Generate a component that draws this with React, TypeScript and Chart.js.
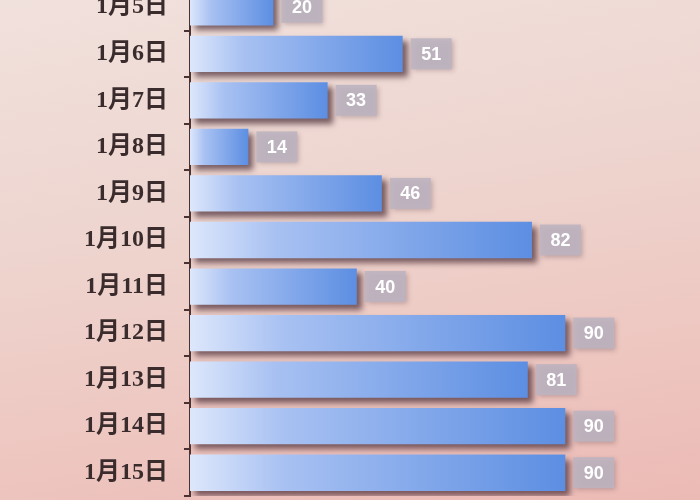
import { useEffect, useRef } from 'react'
import { Chart, ChartConfiguration, Plugin, registerables } from 'chart.js'

Chart.register(...registerables)

const dates = ['1月5日', '1月6日', '1月7日', '1月8日', '1月9日', '1月10日', '1月11日', '1月12日', '1月13日', '1月14日', '1月15日']
const counts = [20, 51, 33, 14, 46, 82, 40, 90, 81, 90, 90]

// bar shadow + value boxes
const decor: Plugin<'bar'> = {
  id: 'decor',
  beforeDatasetsDraw(chart) {
    const ctx = chart.ctx
    ctx.save()
    ctx.shadowColor = 'rgba(70,40,50,0.7)'
    ctx.shadowBlur = 6
    ctx.shadowOffsetX = 5
    ctx.shadowOffsetY = 5
  },
  afterDatasetsDraw(chart) {
    const ctx = chart.ctx
    ctx.restore()
    const meta = chart.getDatasetMeta(0)
    ctx.save()
    meta.data.forEach((bar, i) => {
      const { x, y } = bar.getProps(['x', 'y'], true) as { x: number; y: number }
      const bx = x + 8
      const w = 41
      const h = 31
      ctx.shadowColor = 'rgba(90,60,70,0.35)'
      ctx.shadowBlur = 5
      ctx.shadowOffsetX = 2
      ctx.shadowOffsetY = 2
      ctx.fillStyle = 'rgba(188,180,192,0.9)'
      ctx.fillRect(bx, y - h / 2, w, h)
      ctx.shadowColor = 'transparent'
      ctx.fillStyle = '#ffffff'
      ctx.font = 'bold 18px "Liberation Sans", Arial, sans-serif'
      ctx.textAlign = 'center'
      ctx.textBaseline = 'middle'
      ctx.fillText(String(counts[i]), bx + w / 2, y + 1)
    })
    ctx.restore()
  },
}

function BarChart() {
  const chartRef = useRef<HTMLCanvasElement>(null)
  const chartInstance = useRef<Chart | null>(null)

  useEffect(() => {
    if (!chartRef.current) return
    const ctx = chartRef.current.getContext('2d')
    if (!ctx) return

    if (chartInstance.current) {
      chartInstance.current.destroy()
    }

    const config: ChartConfiguration<'bar'> = {
      type: 'bar',
      data: {
        labels: dates,
        datasets: [
          {
            data: counts,
            barPercentage: 0.78,
            categoryPercentage: 1,
            borderWidth: 0,
            backgroundColor: (c) => {
              const chart = c.chart
              const xs = chart.scales.x
              if (!xs || c.type !== 'data') return '#6b98e6'
              const x0 = xs.getPixelForValue(0)
              const x1 = xs.getPixelForValue(c.raw as number)
              if (!isFinite(x0) || !isFinite(x1) || x1 <= x0) return '#6b98e6'
              const g = chart.ctx.createLinearGradient(x0, 0, x1, 0)
              g.addColorStop(0, '#dde7fb')
              g.addColorStop(0.25, '#a8c1f2')
              g.addColorStop(1, '#5c8ee2')
              return g
            },
          },
        ],
      },
      options: {
        indexAxis: 'y',
        animation: false,
        responsive: true,
        maintainAspectRatio: false,
        layout: { padding: { left: 0, right: 93, top: 0, bottom: 4 } },
        plugins: {
          legend: { display: false },
          tooltip: { enabled: false },
        },
        scales: {
          x: {
            display: false,
            min: 0,
            max: 100,
          },
          y: {
            afterFit: (scale) => {
              scale.width = 190
              scale.paddingTop = 0
              scale.paddingBottom = 0
            },
            border: { display: true, color: '#4a3232', width: 2 },
            grid: {
              display: true,
              drawOnChartArea: false,
              drawTicks: true,
              tickLength: 6,
              offset: true,
              color: '#4a3232',
              lineWidth: 2,
            },
            ticks: {
              padding: 16,
              color: '#3a2c2c',
              font: { family: '"Liberation Serif", "Noto Sans CJK SC", serif', size: 24, weight: 'bold' },
            },
          },
        },
      },
      plugins: [decor],
    }

    chartInstance.current = new Chart(ctx, config)

    return () => {
      if (chartInstance.current) {
        chartInstance.current.destroy()
        chartInstance.current = null
      }
    }
  }, [])

  return (
    <div style={{ position: 'absolute', left: 0, top: -16, width: 700, height: 516 }}>
      <canvas ref={chartRef} />
    </div>
  )
}

export default function App() {
  return (
    <div
      style={{
        position: 'fixed',
        left: 0,
        top: 0,
        width: 700,
        height: 500,
        overflow: 'hidden',
        background: 'linear-gradient(170deg, #f1e1dd 0%, #eed5cf 40%, #eec6c0 75%, #ecbab5 100%)',
      }}
    >
      <BarChart />
    </div>
  )
}
